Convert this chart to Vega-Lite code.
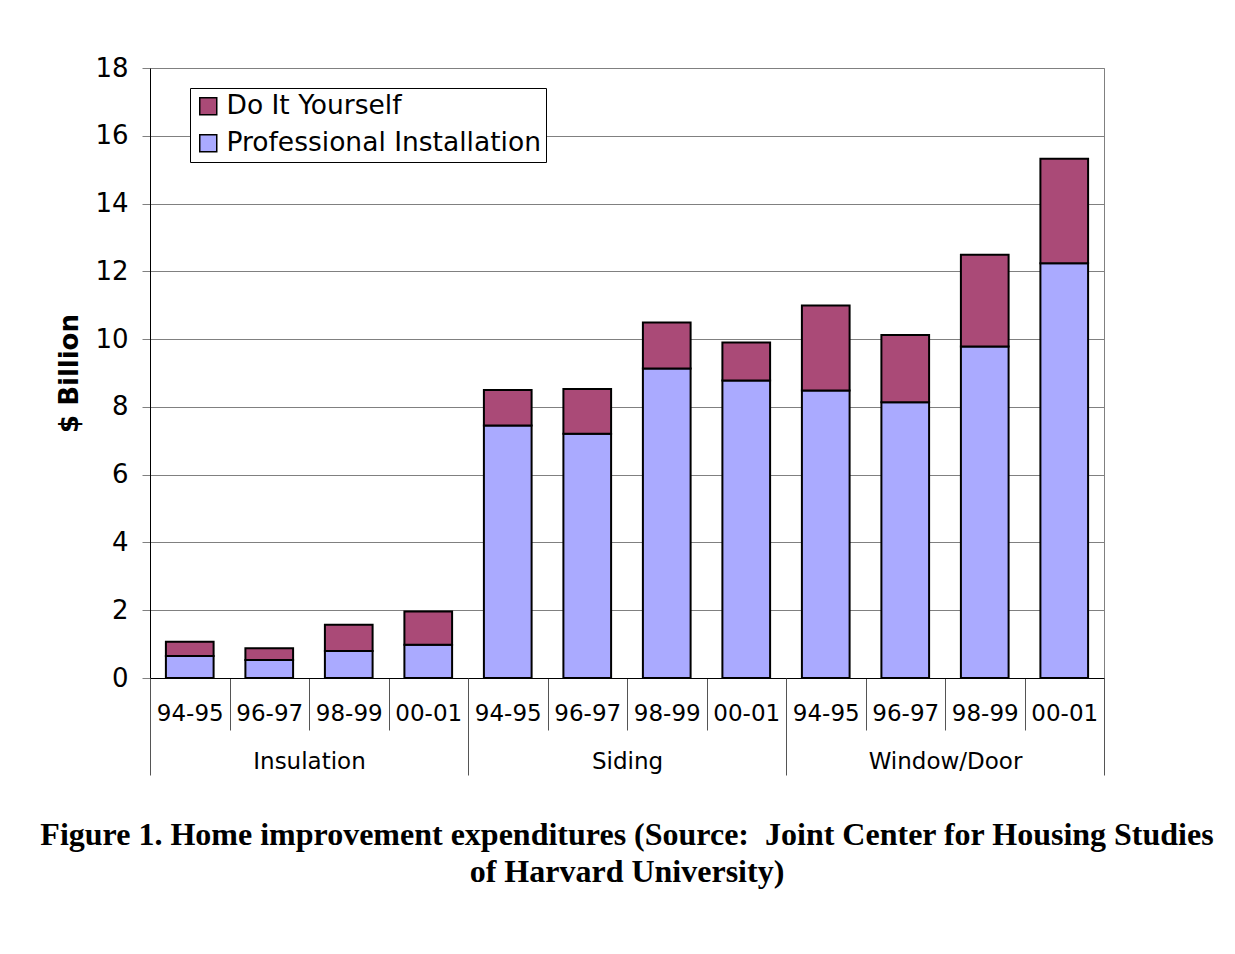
{
  "$schema": "https://vega.github.io/schema/vega-lite/v6.json",
  "width": 954,
  "height": 610,
  "padding": {"left": 39, "top": 55, "right": 5, "bottom": 5},
  "background": "white",
  "config": {
    "view": {"stroke": "#808080", "strokeWidth": 1},
    "font": "DejaVu Sans"
  },
  "data": {
    "values": [
      {"group": "Insulation", "period": "94-95", "key": "Insulation|94-95", "type": "Professional Installation", "value": 0.65},
      {"group": "Insulation", "period": "94-95", "key": "Insulation|94-95", "type": "Do It Yourself", "value": 0.42},
      {"group": "Insulation", "period": "96-97", "key": "Insulation|96-97", "type": "Professional Installation", "value": 0.53},
      {"group": "Insulation", "period": "96-97", "key": "Insulation|96-97", "type": "Do It Yourself", "value": 0.35},
      {"group": "Insulation", "period": "98-99", "key": "Insulation|98-99", "type": "Professional Installation", "value": 0.80},
      {"group": "Insulation", "period": "98-99", "key": "Insulation|98-99", "type": "Do It Yourself", "value": 0.77},
      {"group": "Insulation", "period": "00-01", "key": "Insulation|00-01", "type": "Professional Installation", "value": 0.98},
      {"group": "Insulation", "period": "00-01", "key": "Insulation|00-01", "type": "Do It Yourself", "value": 0.98},
      {"group": "Siding", "period": "94-95", "key": "Siding|94-95", "type": "Professional Installation", "value": 7.45},
      {"group": "Siding", "period": "94-95", "key": "Siding|94-95", "type": "Do It Yourself", "value": 1.05},
      {"group": "Siding", "period": "96-97", "key": "Siding|96-97", "type": "Professional Installation", "value": 7.21},
      {"group": "Siding", "period": "96-97", "key": "Siding|96-97", "type": "Do It Yourself", "value": 1.32},
      {"group": "Siding", "period": "98-99", "key": "Siding|98-99", "type": "Professional Installation", "value": 9.13},
      {"group": "Siding", "period": "98-99", "key": "Siding|98-99", "type": "Do It Yourself", "value": 1.36},
      {"group": "Siding", "period": "00-01", "key": "Siding|00-01", "type": "Professional Installation", "value": 8.78},
      {"group": "Siding", "period": "00-01", "key": "Siding|00-01", "type": "Do It Yourself", "value": 1.12},
      {"group": "Window/Door", "period": "94-95", "key": "Window/Door|94-95", "type": "Professional Installation", "value": 8.48},
      {"group": "Window/Door", "period": "94-95", "key": "Window/Door|94-95", "type": "Do It Yourself", "value": 2.51},
      {"group": "Window/Door", "period": "96-97", "key": "Window/Door|96-97", "type": "Professional Installation", "value": 8.14},
      {"group": "Window/Door", "period": "96-97", "key": "Window/Door|96-97", "type": "Do It Yourself", "value": 1.98},
      {"group": "Window/Door", "period": "98-99", "key": "Window/Door|98-99", "type": "Professional Installation", "value": 9.78},
      {"group": "Window/Door", "period": "98-99", "key": "Window/Door|98-99", "type": "Do It Yourself", "value": 2.71},
      {"group": "Window/Door", "period": "00-01", "key": "Window/Door|00-01", "type": "Professional Installation", "value": 12.24},
      {"group": "Window/Door", "period": "00-01", "key": "Window/Door|00-01", "type": "Do It Yourself", "value": 3.08}
    ]
  },
  "title": {
    "text": ["Figure 1. Home improvement expenditures (Source:\u00a0 Joint Center for Housing Studies", "of Harvard University)"],
    "orient": "bottom",
    "anchor": "middle",
    "font": "Liberation Serif",
    "fontSize": 32,
    "fontWeight": "bold",
    "lineHeight": 37,
    "offset": 44,
    "color": "black"
  },
  "layer": [
    {
      "mark": {"type": "bar", "stroke": "black", "strokeWidth": 2, "width": {"band": 0.6}},
      "encoding": {
        "x": {
          "field": "key",
          "type": "nominal",
          "sort": null,
          "scale": {"paddingInner": 0, "paddingOuter": 0},
          "axis": {
            "title": null,
            "labelExpr": "split(datum.value, '|')[1]",
            "tickBand": "extent",
            "tickSize": 52,
            "tickColor": "#555555",
            "tickWidth": 1,
            "labelPadding": -28,
            "labelFont": "DejaVu Sans",
            "labelFontSize": 23,
            "labelColor": "black",
            "labelAngle": 0,
            "domainColor": "black",
            "domainWidth": 1,
            "grid": false
          }
        },
        "y": {
          "field": "value",
          "type": "quantitative",
          "stack": "zero",
          "scale": {"domain": [0, 18]},
          "axis": {
            "title": "$ Billion",
            "titleFont": "DejaVu Sans",
            "titleFontSize": 26,
            "titleFontWeight": "bold",
            "titleColor": "black",
            "titlePadding": 12,
            "values": [0, 2, 4, 6, 8, 10, 12, 14, 16, 18],
            "labelFont": "DejaVu Sans",
            "labelFontSize": 26,
            "labelColor": "black",
            "labelPadding": 14,
            "tickSize": 8,
            "tickColor": "#808080",
            "domainColor": "black",
            "grid": true,
            "gridColor": "#808080",
            "gridWidth": 1
          }
        },
        "color": {
          "field": "type",
          "type": "nominal",
          "scale": {"domain": ["Do It Yourself", "Professional Installation"], "range": ["#AA4A77", "#AAAAFF"]},
          "legend": {
            "title": null,
            "orient": "none",
            "legendX": 40,
            "legendY": 20,
            "strokeColor": "black",
            "fillColor": "white",
            "padding": 5,
            "symbolType": "square",
            "symbolSize": 289,
            "symbolStrokeColor": "black",
            "symbolStrokeWidth": 1.5,
            "symbolOpacity": 1,
            "labelFont": "DejaVu Sans",
            "labelFontSize": 26.5,
            "labelColor": "black",
            "labelOffset": 5,
            "labelLimit": 0,
            "rowPadding": 10
          }
        },
        "order": {"field": "type", "sort": "descending"}
      }
    },
    {
      "mark": {"type": "point", "opacity": 0},
      "encoding": {
        "x": {
          "field": "group",
          "type": "nominal",
          "sort": null,
          "scale": {"paddingInner": 0, "paddingOuter": 0},
          "axis": {
            "title": null,
            "orient": "bottom",
            "tickBand": "extent",
            "tickSize": 97,
            "tickColor": "#555555",
            "tickWidth": 1,
            "labelPadding": -25,
            "labelFont": "DejaVu Sans",
            "labelFontSize": 23,
            "labelColor": "black",
            "labelAngle": 0,
            "domain": false,
            "grid": false
          }
        }
      }
    }
  ],
  "resolve": {"scale": {"x": "independent"}, "axis": {"x": "independent"}}
}
